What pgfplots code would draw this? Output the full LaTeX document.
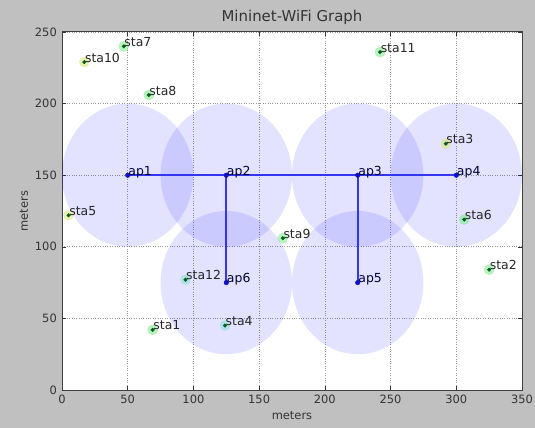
\documentclass[border=0pt]{standalone}
\usepackage{pgfplots}
\usepackage{pgfplotstable}
\usepackage{fontspec}
\setmainfont{DejaVu Sans}
\pgfplotsset{compat=1.18}
\definecolor{figbg}{HTML}{C0C0C0}
\definecolor{stadot}{HTML}{0B5A1E}
\definecolor{apdot}{HTML}{1010C8}
\definecolor{linkblue}{HTML}{3535F0}
\definecolor{halog}{HTML}{7CEB8C}
\definecolor{haloy}{HTML}{D8E87A}
\definecolor{haloc}{HTML}{8CE0D8}
\pgfplotstableread{
name x y cls
sta1 69 42 g
sta2 325 84 g
sta3 292 172 y
sta4 124 45 c
sta5 5 122 y
sta6 306 119 g
sta7 47 240 g
sta8 66 206 g
sta9 168 106 g
sta10 17 229 y
sta11 242 236 g
sta12 94 77 c
}\sta
\pgfplotstableread{
name x y
ap1 50 150
ap2 125 150
ap3 225 150
ap4 300 150
ap5 225 75
ap6 125 75
}\aps
\begin{document}
\begin{tikzpicture}
\fill[figbg] (0,0) rectangle (535bp,428bp);
\begin{axis}[
  at={(62bp,38bp)}, anchor=south west,
  scale only axis, width=460bp, height=358bp,
  xmin=0, xmax=350, ymin=0, ymax=250,
  axis background/.style={fill=white},
  xtick={0,50,...,350}, ytick={0,50,...,250},
  tick align=inside, tick pos=both,
  major tick length=4bp,
  every tick/.style={black!80, line width=0.6pt},
  axis line style={black!75, line width=1pt},
  grid=major,
  major grid style={dotted, black!40, line width=0.7pt},
  /pgf/number format/assume math mode=true,
  tick label style={font=\fontsize{11.5}{12}\selectfont, text=black!80},
  xticklabel style={anchor=north, inner sep=0pt, yshift=-5bp},
  yticklabel style={anchor=east, inner sep=0pt, xshift=-5bp},
  xlabel={meters}, ylabel={meters},
  label style={font=\fontsize{11.5}{12}\selectfont, text=black!80},
  xlabel style={at={(axis description cs:0.5,0)}, anchor=center, yshift=-26bp, inner sep=0pt},
  ylabel style={at={(axis description cs:-0.0826,0.5)}, anchor=center, inner sep=0pt},
  title={Mininet-WiFi Graph},
  title style={at={(axis description cs:0.5,1)}, anchor=base, yshift=5bp, inner sep=0pt,
    font=\fontsize{15}{17}\selectfont, text=black!80},
  clip=true,
]
% coverage ranges (radius 50 m) around each access point
\fill[blue, fill opacity=0.11] (axis cs:50,150) ellipse [x radius=50, y radius=50];
\fill[blue, fill opacity=0.11] (axis cs:125,150) ellipse [x radius=50, y radius=50];
\fill[blue, fill opacity=0.11] (axis cs:225,150) ellipse [x radius=50, y radius=50];
\fill[blue, fill opacity=0.11] (axis cs:300,150) ellipse [x radius=50, y radius=50];
\fill[blue, fill opacity=0.11] (axis cs:225,75) ellipse [x radius=50, y radius=50];
\fill[blue, fill opacity=0.11] (axis cs:125,75) ellipse [x radius=50, y radius=50];
% links
\addplot[draw=linkblue, line width=1.6pt, no marks] coordinates {(50,150) (125,150) (225,150) (300,150)};
\addplot[draw=linkblue, line width=1.6pt, no marks] coordinates {(125,150) (125,75)};
\addplot[draw=linkblue, line width=1.6pt, no marks] coordinates {(225,150) (225,75)};
% station halos
\addplot[scatter, only marks, mark=*, mark size=5bp, point meta=explicit symbolic,
  scatter/classes={
    g={mark=*, draw=halog, fill=halog, opacity=0.55},
    y={mark=*, draw=haloy, fill=haloy, opacity=0.55},
    c={mark=*, draw=haloc, fill=haloc, opacity=0.55}}]
  table[x=x, y=y, meta=cls] {\sta};
% stations
\addplot[only marks, mark=*, mark size=1.8bp, mark options={draw=stadot, fill=stadot},
  nodes near coords, point meta=explicit symbolic,
  every node near coord/.style={anchor=base west, inner sep=0pt, xshift=0.5bp,
    font=\fontsize{12.5}{13}\selectfont, text=black!85}]
  table[x=x, y=y, meta=name] {\sta};
% access points
\addplot[only marks, mark=*, mark size=2.3bp, mark options={draw=apdot, fill=apdot},
  nodes near coords, point meta=explicit symbolic,
  every node near coord/.style={anchor=base west, inner sep=0pt, xshift=0.5bp,
    font=\fontsize{12.5}{13}\selectfont, text=black!80!blue}]
  table[x=x, y=y, meta=name] {\aps};
\end{axis}
\end{tikzpicture}
\end{document}
